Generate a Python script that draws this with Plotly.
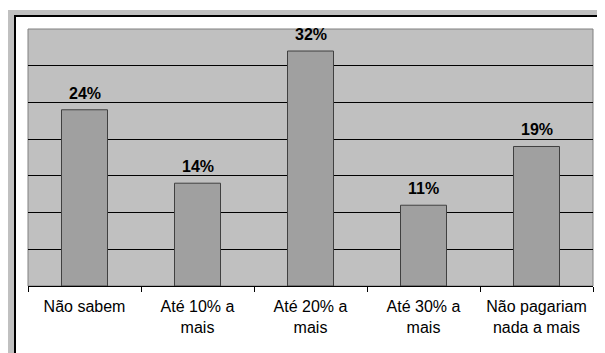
import plotly.graph_objects as go

categories = ["Não sabem", "Até 10% a mais", "Até 20% a mais", "Até 30% a mais", "Não pagariam nada a mais"]
values = [24, 14, 32, 11, 19]
tick_labels = ["Não sabem", "Até 10% a<br>mais", "Até 20% a<br>mais", "Até 30% a<br>mais", "Não pagariam<br>nada a mais"]
value_labels = ["24%", "14%", "32%", "11%", "19%"]

# the page adds an 8px body margin; figure occupies page px 8..605 / 8..353
OFF = 8
W, H = 605 - OFF, 353 - OFF
L, R, T, B = 28 - OFF, 12, 29 - OFF, 67
PW, PH = W - L - R, H - T - B


def px(x):  # page px -> paper
    return (x - OFF - L) / PW


def py(y):
    return (H - B - (y - OFF)) / PH


FONT = "Liberation Sans, Arial, sans-serif"

fig = go.Figure()
fig.add_trace(go.Bar(
    x=categories, y=values,
    marker=dict(color="#a0a0a0", line=dict(color="#404040", width=1)),
    hoverinfo="skip",
))

for c, v, t in zip(categories, values, value_labels):
    fig.add_annotation(x=c, y=v, text="<b>" + t + "</b>", showarrow=False,
                       yanchor="bottom", yshift=6,
                       font=dict(family=FONT, size=16, color="black"))

shapes = [
    dict(type="rect", xref="paper", yref="paper", x0=px(8), x1=px(620), y0=py(370), y1=py(10),
         fillcolor="#c0c0c0", line=dict(width=0), layer="below"),
    dict(type="rect", xref="paper", yref="paper", x0=px(15), x1=px(603.3), y0=py(358), y1=py(16),
         fillcolor="white", line=dict(color="black", width=2), layer="below"),
    dict(type="rect", xref="paper", yref="paper", x0=0, x1=1, y0=0, y1=1,
         fillcolor="#c0c0c0", line=dict(color="#808080", width=1), layer="below"),
]

fig.update_layout(
    width=W, height=H,
    margin=dict(l=L, r=R, t=T, b=B, pad=0),
    paper_bgcolor="white",
    plot_bgcolor="rgba(0,0,0,0)",
    showlegend=False,
    bargap=0.593,
    shapes=shapes,
    font=dict(family=FONT, size=16, color="black"),
    xaxis=dict(
        type="category", tickmode="array", tickvals=categories, ticktext=tick_labels,
        showline=True, linecolor="black", linewidth=1,
        ticks="outside", tickson="boundaries", ticklen=5, tickcolor="black", tickwidth=1,
        ticklabelstandoff=6,
        showgrid=False, zeroline=False, fixedrange=True,
        tickfont=dict(family=FONT, size=16, color="black"),
    ),
    yaxis=dict(
        range=[0, 35], dtick=5, showgrid=True, gridcolor="black", gridwidth=1,
        showticklabels=False, zeroline=False, showline=False, ticks="", fixedrange=True,
    ),
)

fig.write_html("out.html")
